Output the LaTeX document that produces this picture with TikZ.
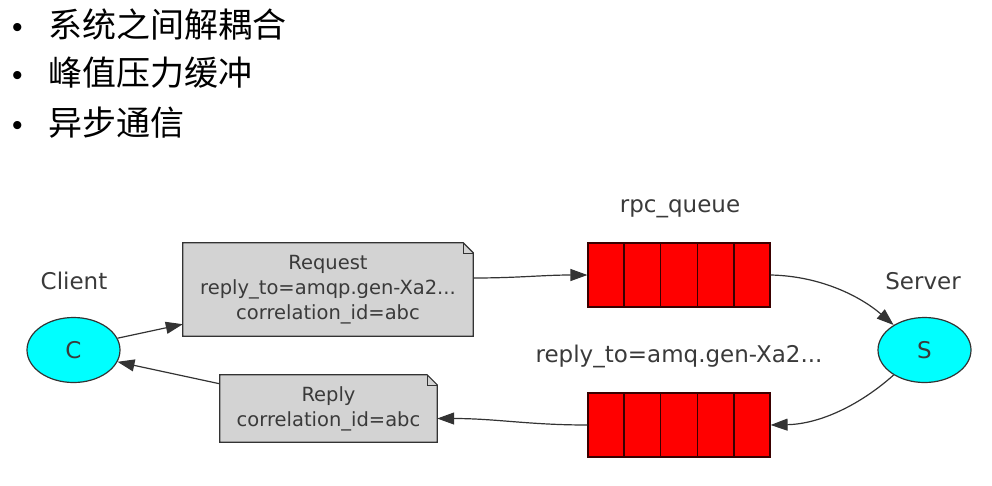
\documentclass[tikz,border=0pt]{standalone}
\usepackage{fontspec}
\setmainfont{DejaVu Sans}
\newfontfamily\cjk{Noto Sans CJK SC}
\newfontfamily\bulfont{Liberation Sans}
\usetikzlibrary{calc,arrows.meta,shapes.geometric,backgrounds}
\definecolor{edge}{HTML}{333333}
\definecolor{txt}{HTML}{3A3A3A}
\definecolor{notefill}{HTML}{D3D3D3}
\definecolor{qedge}{HTML}{3A0000}
\definecolor{actorfill}{HTML}{00FFFF}
\definecolor{queuefill}{HTML}{FF0000}
\begin{document}
\begin{tikzpicture}[x=1pt,y=-1pt,
  lbl/.style={font=\fontsize{23}{27}\selectfont, inner sep=0, text=txt},
  cjkitem/.style={font=\cjk\fontsize{34}{40}\selectfont, anchor=base west, inner sep=0, text=black},
  bulletmark/.style={font=\bulfont\fontsize{30}{34}\selectfont, anchor=base, inner sep=0, text=black},
  actor/.style={ellipse, draw=edge, fill=actorfill, line width=1.2pt, minimum width=93pt, minimum height=65pt, inner sep=0, font=\fontsize{23}{27}\selectfont, text=txt},
  msg/.style={align=center, font=\fontsize{19.5}{25}\selectfont, inner sep=0, text=txt},
  notebox/.style={fill=notefill, draw=edge, line width=1.2pt, line join=miter},
  foldline/.style={draw=edge, line width=0.6pt},
  queuebox/.style={draw=qedge, fill=queuefill, line width=1.2pt, minimum width=182pt, minimum height=64pt, inner sep=0},
  divider/.style={draw=qedge, line width=1.2pt},
  flow/.style={draw=edge, line width=1.2pt, -{Triangle[length=17pt,width=12pt]}}
]
\useasboundingbox (0,0) rectangle (992,485);

% bullet list
\node[bulletmark] (b1) at (17.5,37.5) {•};
\node[cjkitem] (t1) at (48,37.5) {系统之间解耦合};
\node[bulletmark] (b2) at (17.5,85.5) {•};
\node[cjkitem] (t2) at (48,85.5) {峰值压力缓冲};
\node[bulletmark] (b3) at (17.5,135.5) {•};
\node[cjkitem] (t3) at (48,135.5) {异步通信};

% actors
\node[actor] (c) at (73.5,350) {C};
\node[lbl] (clientlbl) at (74,281) {Client};
\node[actor] (s) at (924.5,350) {S};
\node[lbl] (serverlbl) at (923,281) {Server};

% messages
\node[msg, minimum width=290pt, minimum height=93pt] (req) at (328,289.5)
  {Request\\reply\_to=amqp.gen-Xa2...\\correlation\_id=abc};
\node[msg, minimum width=217pt, minimum height=67pt] (rep) at (328.5,408.5)
  {Reply\\correlation\_id=abc};
\begin{pgfonlayer}{background}
  \path[notebox] (req.south west) -- (req.south east) -- ([yshift=-10pt]req.north east)
    -- ([xshift=-10pt]req.north east) -- (req.north west) -- cycle;
  \path[foldline] ([xshift=-10pt]req.north east) -- ([xshift=-10pt,yshift=-10pt]req.north east)
    -- ([yshift=-10pt]req.north east);
  \path[notebox] (rep.south west) -- (rep.south east) -- ([yshift=-10pt]rep.north east)
    -- ([xshift=-10pt]rep.north east) -- (rep.north west) -- cycle;
  \path[foldline] ([xshift=-10pt]rep.north east) -- ([xshift=-10pt,yshift=-10pt]rep.north east)
    -- ([yshift=-10pt]rep.north east);
\end{pgfonlayer}

% queues
\node[queuebox] (q1) at (679,275) {};
\node[queuebox] (q2) at (679,425) {};
\foreach \q in {q1,q2}{
  \foreach \k in {1,2,3,4}{
    \draw[divider] ($(\q.north west)!\k/5!(\q.north east)$) -- ($(\q.south west)!\k/5!(\q.south east)$);
  }
}
\node[lbl] (qlbl1) at (680,209) {rpc\_queue};
\node[lbl] (qlbl2) at (679,356) {reply\_to=amq.gen-Xa2...};

% connectors
\draw[flow] (c.15) -- ([yshift=12pt]req.south west);
\draw[flow] ([yshift=11.5pt]req.east) to[out=0,in=180] (q1.west);
\draw[flow] (q1.east) .. controls (820,276) and (860,296) .. (s.141);
\draw[flow] (s.219) .. controls (860,405) and (820,424) .. (q2.east);
\draw[flow] (q2.west) to[out=180,in=0] ([yshift=-10pt]rep.east);
\draw[flow] ([yshift=-9pt]rep.north west) -- (c.-15);
\end{tikzpicture}
\end{document}
